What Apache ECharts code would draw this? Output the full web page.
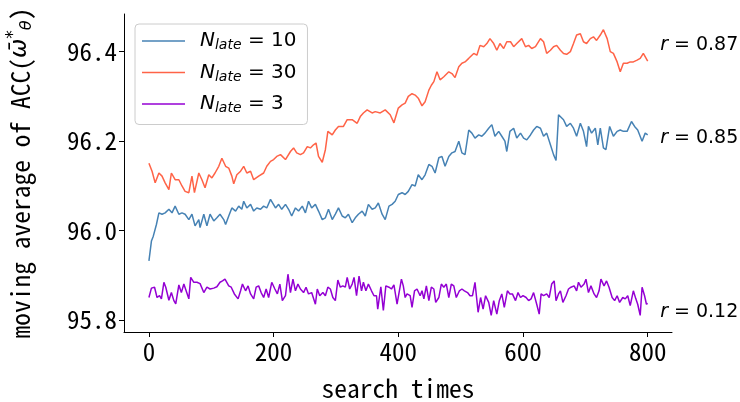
<!DOCTYPE html>
<html>
<head>
<meta charset="utf-8">
<script src="https://cdn.jsdelivr.net/npm/echarts@6/dist/echarts.min.js"></script>
<style>html,body{margin:0;padding:0;background:#fff}#c{width:740px;height:402px}</style>
</head>
<body>
<div id="c"></div>
<script>
const xTicks = [0, 200, 400, 600, 800];
const yTicks = [95.8, 96.0, 96.2, 96.4];
const seriesNames = ['N_late = 10', 'N_late = 30', 'N_late = 3'];
const rLabels = ['0.85', '0.87', '0.12'];
const rPos = [[820, 96.207], [820, 96.413], [820, 95.818]];

const redX = [0,5,10,16,21,26,32,36,42,48,53,58,64,69,73,80,85,90,96,101,106,112,117,123,128,133,136,141,147,152,157,163,168,176,184,189,195,200,205,211,219,227,232,237,243,248,254,259,264,268,272,278,283,287,294,299,304,312,318,326,334,339,344,350,358,363,371,379,387,393,400,406,411,416,422,427,432,438,443,449,453,457,462,467,473,481,486,491,497,502,507,513,521,526,531,537,542,547,553,558,563,569,574,580,585,590,598,604,609,614,620,628,633,638,644,649,654,660,665,670,676,681,686,692,697,702,708,713,718,724,729,735,740,745,751,756,761,767,772,777,783,788,793,800];
const redY = [96.150,96.132,96.106,96.128,96.121,96.106,96.091,96.128,96.113,96.113,96.099,96.087,96.084,96.121,96.084,96.128,96.113,96.095,96.124,96.117,96.128,96.143,96.161,96.143,96.139,96.121,96.104,96.124,96.132,96.143,96.128,96.132,96.113,96.121,96.128,96.143,96.154,96.158,96.165,96.169,96.158,96.176,96.184,96.173,96.169,96.173,96.187,96.184,96.191,96.195,96.165,96.152,96.180,96.221,96.213,96.224,96.232,96.232,96.247,96.247,96.239,96.254,96.262,96.269,96.262,96.265,96.262,96.269,96.258,96.240,96.273,96.280,96.284,96.299,96.305,96.302,96.295,96.278,96.287,96.313,96.324,96.332,96.354,96.336,96.343,96.354,96.350,96.341,96.365,96.373,96.376,96.384,96.395,96.391,96.413,96.410,96.417,96.428,96.417,96.402,96.417,96.406,96.421,96.421,96.410,96.417,96.428,96.410,96.413,96.406,96.410,96.428,96.421,96.395,96.402,96.410,96.413,96.402,96.395,96.393,96.399,96.417,96.436,96.439,96.421,96.417,96.428,96.432,96.424,96.436,96.448,96.428,96.399,96.395,96.376,96.354,96.373,96.373,96.376,96.376,96.380,96.384,96.395,96.378];

const blueX = [0,4,7,12,16,21,26,32,37,42,48,53,58,64,69,74,80,82,88,93,98,104,109,114,120,123,128,133,139,144,149,152,157,163,168,173,179,184,189,195,197,203,208,213,219,224,229,235,240,246,251,256,261,267,272,278,283,288,294,299,304,310,315,320,326,331,336,342,347,352,358,363,368,374,379,385,390,395,
400,406,411,416,422,427,432,438,443,449,454,459,465,470,475,481,486,491,497,502,507,513,518,523,529,534,539,545,550,555,561,566,571,574,579,585,590,596,601,606,612,617,622,628,633,638,644,649,653,657,660,665,670,676,681,686,692,697,702,705,710,716,720,724,729,733,739,745,751,756,761,767,774,779,784,791,796,800];
const blueY = [95.932,95.976,95.987,96.013,96.039,96.036,96.039,96.047,96.039,96.054,96.036,96.039,96.036,96.024,96.036,96.010,96.024,96.006,96.036,96.010,96.036,96.021,96.028,96.036,96.024,96.013,96.032,96.050,96.043,96.054,96.047,96.065,96.050,96.058,96.043,96.050,96.047,96.054,96.050,96.069,96.073,96.050,96.058,96.047,96.058,96.047,96.032,96.050,96.043,96.054,96.039,96.065,96.050,96.058,96.043,96.024,96.028,96.047,96.024,96.036,96.050,96.032,96.028,96.036,96.017,96.028,96.036,96.043,96.032,96.058,96.047,96.050,96.061,96.036,96.024,96.054,96.058,96.065,
96.080,96.084,96.080,96.087,96.102,96.099,96.124,96.113,96.124,96.147,96.143,96.128,96.162,96.165,96.143,96.165,96.173,96.176,96.199,96.173,96.169,96.224,96.217,96.206,96.213,96.210,96.217,96.228,96.236,96.210,96.221,96.210,96.199,96.176,96.221,96.228,96.206,96.217,96.206,96.202,96.213,96.224,96.232,96.228,96.210,96.217,96.191,96.169,96.156,96.258,96.262,96.247,96.232,96.239,96.228,96.210,96.239,96.221,96.187,96.232,96.217,96.228,96.191,96.228,96.184,96.180,96.232,96.210,96.221,96.224,96.221,96.221,96.243,96.232,96.224,96.199,96.217,96.213];

const purpleX = [0,4,9,13,17,20,24,27,32,36,40,43,48,52,56,59,64,67,72,77,82,88,93,98,104,109,114,118,122,128,132,137,143,147,150,155,159,163,168,172,176,180,184,188,192,197,202,206,210,214,219,223,227,231,235,239,243,248,252,256,261,267,270,274,279,283,287,291,295,299,303,307,311,315,318,322,326,329,333,337,341,344,348,352,357,361,365,367,372,376,380,385,389,393,
398,401,405,408,411,414,419,422,426,430,435,438,441,445,449,453,457,460,465,469,473,477,481,485,489,493,498,502,506,511,515,519,523,528,532,536,540,545,549,553,558,562,566,570,575,579,583,588,592,596,600,605,609,613,617,622,626,629,633,638,642,646,650,653,657,660,664,669,673,677,682,686,689,693,698,701,705,709,714,718,722,725,730,734,738,743,747,751,755,760,764,768,772,777,781,784,788,791,795,798,800];
const purpleY = [95.850,95.871,95.873,95.850,95.854,95.847,95.884,95.873,95.844,95.861,95.843,95.836,95.878,95.861,95.880,95.884,95.847,95.895,95.884,95.884,95.881,95.861,95.873,95.869,95.871,95.874,95.884,95.887,95.891,95.876,95.873,95.858,95.847,95.865,95.880,95.865,95.876,95.858,95.847,95.873,95.876,95.861,95.850,95.869,95.850,95.884,95.869,95.858,95.880,95.843,95.854,95.902,95.861,95.891,95.865,95.880,95.869,95.861,95.873,95.858,95.861,95.835,95.869,95.854,95.861,95.854,95.873,95.869,95.850,95.843,95.889,95.873,95.876,95.873,95.895,95.869,95.880,95.895,95.854,95.898,95.865,95.884,95.865,95.880,95.865,95.854,95.854,95.824,95.874,95.821,95.876,95.873,95.869,95.878,
95.835,95.832,95.891,95.876,95.850,95.858,95.854,95.828,95.865,95.869,95.854,95.865,95.847,95.876,95.843,95.873,95.869,95.839,95.850,95.880,95.873,95.880,95.850,95.880,95.876,95.850,95.865,95.869,95.865,95.861,95.854,95.854,95.884,95.817,95.850,95.824,95.854,95.839,95.810,95.843,95.813,95.843,95.858,95.828,95.865,95.858,95.858,95.843,95.861,95.850,95.854,95.850,95.843,95.847,95.861,95.835,95.813,95.858,95.854,95.858,95.850,95.880,95.887,95.843,95.858,95.865,95.839,95.854,95.869,95.873,95.876,95.865,95.884,95.873,95.880,95.891,95.861,95.876,95.858,95.850,95.865,95.891,95.876,95.887,95.873,95.850,95.843,95.854,95.839,95.850,95.847,95.854,95.832,95.865,95.847,95.835,95.810,95.873,95.854,95.835,95.837];

const colors = ['#4682b4', '#ff6347', '#9400d3'];
const monoFont = "'Noto Sans Mono CJK JP', 'DejaVu Sans Mono', monospace";
const mathFont = "'DejaVu Sans', sans-serif";

function pairs(xs, ys) { return xs.map((x, i) => [x, ys[i]]); }
const allData = [pairs(blueX, blueY), pairs(redX, redY), pairs(purpleX, purpleY)];

const series = seriesNames.map((name, i) => ({
  name: name,
  type: 'line',
  data: allData[i],
  showSymbol: false,
  symbol: 'none',
  lineStyle: { color: colors[i], width: 1.5 },
  itemStyle: { color: colors[i] },
  z: 2 + i,
  animation: false,
  markPoint: {
    symbol: 'circle',
    symbolSize: 0,
    silent: true,
    data: [{ coord: rPos[i], value: rLabels[i] }],
    label: {
      show: true,
      position: 'right',
      distance: 0,
      formatter: '{r|r}{e| = ' + rLabels[i] + '}',
      rich: {
        r: { fontFamily: mathFont, fontStyle: 'italic', fontSize: 19, color: '#000' },
        e: { fontFamily: mathFont, fontSize: 19, color: '#000' }
      }
    }
  }
}));

const chart = echarts.init(document.getElementById('c'), null, { renderer: 'canvas' });
chart.setOption({
  animation: false,
  backgroundColor: '#fff',
  grid: { left: 124, right: 68, top: 14, bottom: 70, containLabel: false, outerBoundsMode: 'none' },
  legend: {
    data: seriesNames,
    orient: 'vertical',
    left: 135,
    top: 24,
    padding: [7, 11, 9, 7],
    itemGap: 10,
    itemWidth: 43,
    itemHeight: 1.5,
    icon: 'rect',
    backgroundColor: 'rgba(255,255,255,0.8)',
    borderColor: '#cccccc',
    borderWidth: 1,
    borderRadius: 4,
    formatter: function (name) {
      const v = name.split('=')[1].trim();
      return '{sp|}{n|N}{s|late}{e| = ' + v + '}';
    },
    textStyle: {
      lineHeight: 20,
      color: '#000',
      rich: {
        sp: { width: 10 },
        n: { fontFamily: mathFont, fontStyle: 'italic', fontSize: 20, color: '#000' },
        s: { fontFamily: mathFont, fontStyle: 'italic', fontSize: 14, padding: [9, 0, 0, 0], color: '#000' },
        e: { fontFamily: mathFont, fontSize: 20, color: '#000' }
      }
    }
  },
  xAxis: {
    type: 'value',
    min: -40,
    max: 839,
    name: 'search times',
    nameLocation: 'middle',
    nameGap: 44,
    nameTextStyle: { fontFamily: monoFont, fontSize: 25.5, color: '#000' },
    splitLine: { show: false },
    axisLine: { show: true, onZero: false, lineStyle: { color: '#000', width: 1 } },
    axisTick: { show: true, length: 5, customValues: xTicks, lineStyle: { color: '#000' } },
    axisLabel: { customValues: xTicks, margin: 7, fontFamily: monoFont, fontSize: 25, color: '#000' }
  },
  yAxis: {
    type: 'value',
    min: 95.773,
    max: 96.483,
    name: '{t|moving average of ACC(}{w|ω\u0304}{sup|*}{sub|θ}{t|)}',
    nameLocation: 'middle',
    nameRotate: 90,
    nameGap: 88,
    nameTextStyle: {
      color: '#000',
      rich: {
        t: { fontFamily: monoFont, fontSize: 25.5, color: '#000' },
        w: { fontFamily: mathFont, fontStyle: 'italic', fontSize: 23, color: '#000' },
        sup: { fontFamily: mathFont, fontSize: 17, padding: [0, 0, 14, 0], color: '#000' },
        sub: { fontFamily: mathFont, fontStyle: 'italic', fontSize: 16, padding: [12, 0, 0, 0], color: '#000' }
      }
    },
    splitLine: { show: false },
    axisLine: { show: true, onZero: false, lineStyle: { color: '#000', width: 1 } },
    axisTick: { show: true, length: 5, customValues: yTicks, lineStyle: { color: '#000' } },
    axisLabel: {
      customValues: yTicks, margin: 7, fontFamily: monoFont, fontSize: 25, color: '#000',
      formatter: function (v) { return v.toFixed(1); }
    }
  },
  series: series
});
</script>
</body>
</html>
